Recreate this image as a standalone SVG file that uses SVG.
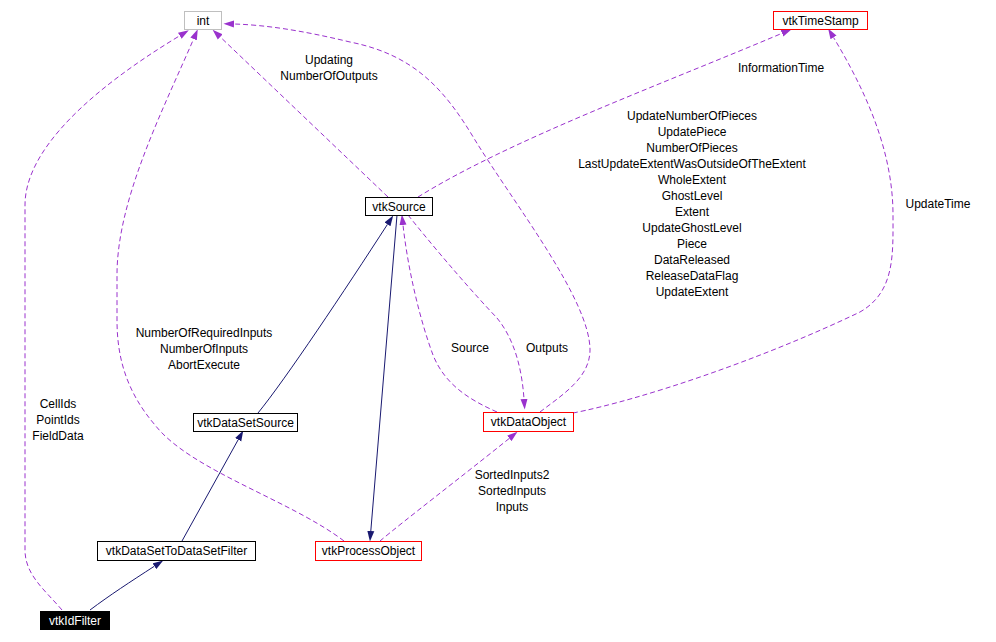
<svg xmlns="http://www.w3.org/2000/svg" width="996" height="642" viewBox="0 0 996 642">
<style>
text{font-family:"Liberation Sans",Arial,sans-serif;font-size:12px;fill:#000;text-anchor:middle}
.box{fill:#fff;stroke:#000;stroke-width:1}
.red{stroke:#ff0000}
.grey{stroke:#bfbfbf}
.dep{fill:none;stroke:#9a32cd;stroke-width:1;stroke-dasharray:5,3}
.inh{fill:none;stroke:#191970;stroke-width:1}
</style>
<defs>
<marker id="ap" markerUnits="userSpaceOnUse" markerWidth="11" markerHeight="8" viewBox="0 0 11 8" refX="0" refY="4" orient="auto"><path d="M0,0.5 L10.5,4 L0,7.5 z" fill="#9a32cd" stroke="none"/></marker>
<marker id="an" markerUnits="userSpaceOnUse" markerWidth="11" markerHeight="8" viewBox="0 0 11 8" refX="0" refY="4" orient="auto"><path d="M0,0.5 L10.5,4 L0,7.5 z" fill="#191970" stroke="none"/></marker>
</defs>
<rect width="996" height="642" fill="#fff"/>
<g id="connectors">
<path class="dep" marker-end="url(#ap)" d="M62,610 C45,590 25,575 25,550 L25,205 C25,150 90,90 179.8,35.7"/>
<path class="dep" marker-end="url(#ap)" d="M344,541 C290,500 190,470 155,425 C125,390 117,355 117,320 L117,275 C117,200 162,112 193.6,39"/>
<path class="dep" marker-end="url(#ap)" d="M388,197 L220.2,36.9"/>
<path class="dep" marker-end="url(#ap)" d="M540,412 C562,395 590,378 590,350 C590,300 515,205 475,140 C445,90 415,55 350,42 C300,30 265,25 234,24"/>
<path class="dep" marker-end="url(#ap)" d="M497,412 C470,400 445,385 433,355 C420,320 408,270 403,225"/>
<path class="dep" marker-end="url(#ap)" d="M408,215 C440,255 475,295 497,318 C515,340 522,370 524,399"/>
<path class="dep" marker-end="url(#ap)" d="M418,197 C510,140 660,85 782,33.3"/>
<path class="dep" marker-end="url(#ap)" d="M573,413 C640,400 760,360 860,312 C895,292 893,255 893,215 C893,150 865,90 833.5,37.4"/>
<path class="dep" marker-end="url(#ap)" d="M380,541 C405,520 460,478 509.3,438.4"/>
<path class="inh" marker-end="url(#an)" d="M90,610 C110,595 130,582 154.4,566.2"/>
<path class="inh" marker-end="url(#an)" d="M182,541 L238.2,439.7"/>
<path class="inh" marker-end="url(#an)" d="M258,413 C285,380 345,290 387.5,224.3"/>
<path class="inh" marker-end="url(#an)" d="M397,215 L370.8,531"/>
<text x="58" y="408">CellIds</text>
<text x="58" y="424">PointIds</text>
<text x="58" y="440">FieldData</text>
<text x="204" y="337">NumberOfRequiredInputs</text>
<text x="204" y="353">NumberOfInputs</text>
<text x="204" y="369">AbortExecute</text>
<text x="329" y="64">Updating</text>
<text x="329" y="80">NumberOfOutputs</text>
<text x="470" y="352">Source</text>
<text x="547" y="352">Outputs</text>
<text x="781" y="72">InformationTime</text>
<text x="938" y="208">UpdateTime</text>
<text x="512" y="479">SortedInputs2</text>
<text x="512" y="495">SortedInputs</text>
<text x="512" y="511">Inputs</text>
<text x="692" y="120">UpdateNumberOfPieces</text>
<text x="692" y="136">UpdatePiece</text>
<text x="692" y="152">NumberOfPieces</text>
<text x="692" y="168">LastUpdateExtentWasOutsideOfTheExtent</text>
<text x="692" y="184">WholeExtent</text>
<text x="692" y="200">GhostLevel</text>
<text x="692" y="216">Extent</text>
<text x="692" y="232">UpdateGhostLevel</text>
<text x="692" y="248">Piece</text>
<text x="692" y="264">DataReleased</text>
<text x="692" y="280">ReleaseDataFlag</text>
<text x="692" y="296">UpdateExtent</text>
</g>
<g id="int"><rect class="box grey" x="184.5" y="11.5" width="37" height="18"/><text x="203" y="24.5">int</text></g>
<g id="vtkTimeStamp"><rect class="box red" x="773.5" y="11.5" width="94" height="18"/><text x="820.5" y="24.5">vtkTimeStamp</text></g>
<g id="vtkSource"><rect class="box" x="365.5" y="197.5" width="67" height="18"/><text x="399" y="210.5">vtkSource</text></g>
<g id="vtkDataObject"><rect class="box red" x="483.5" y="412.5" width="90" height="19"/><text x="528.5" y="426">vtkDataObject</text></g>
<g id="vtkDataSetSource"><rect class="box" x="193.5" y="413.5" width="104" height="18"/><text x="245.5" y="426.5">vtkDataSetSource</text></g>
<g id="vtkDataSetToDataSetFilter"><rect class="box" x="97.5" y="541.5" width="158" height="19"/><text x="176.5" y="555">vtkDataSetToDataSetFilter</text></g>
<g id="vtkProcessObject"><rect class="box red" x="315.5" y="541.5" width="106" height="19"/><text x="368.5" y="555">vtkProcessObject</text></g>
<g id="vtkIdFilter"><rect x="40" y="611" width="70" height="19" fill="#000"/><text x="75" y="624.5" style="fill:#fff">vtkIdFilter</text></g>
</svg>
